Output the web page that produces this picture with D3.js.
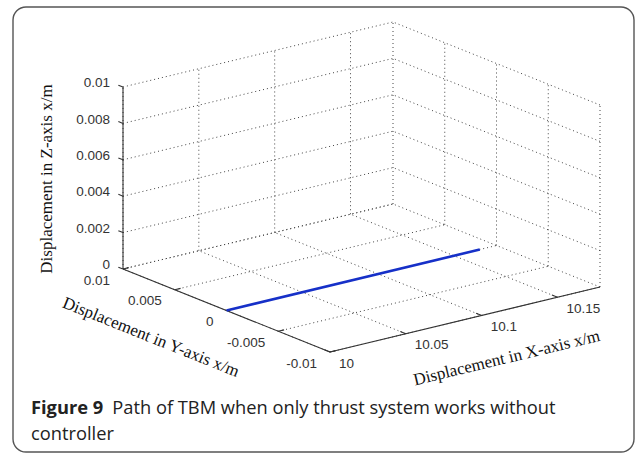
<!DOCTYPE html>
<html>
<head>
<meta charset="utf-8">
<script src="https://cdn.jsdelivr.net/npm/d3@7"></script>
<style>
	body{margin:0;background:#fff;}
	svg{display:block;}
</style>
</head>
<body>
<div id="container"></div>
<script>
// axis ranges and ticks
var xDomain = [10, 10.178],
	yDomain = [-0.01, 0.01],
	zDomain = [0, 0.01];

var xTicks = [10, 10.05, 10.1, 10.15],
	yTicks = [-0.01, -0.005, 0, 0.005, 0.01],
	zTicks = [0, 0.002, 0.004, 0.006, 0.008, 0.01];

var xTickLabels = ['10', '10.05', '10.1', '10.15'],
	yTickLabels = ['-0.01', '-0.005', '0', '0.005', '0.01'],
	zTickLabels = ['0', '0.002', '0.004', '0.006', '0.008', '0.01'];

// TBM path (x, y, z)
var pathX = [10, 10.167],
	pathY = [0, 0],
	pathZ = [0, 0];

var W = 637, H = 454;

var svg = d3.select('#container').append('svg')
	.attr('width', W)
	.attr('height', H);

// frame
svg.append('rect')
	.attr('x', 13).attr('y', 7)
	.attr('width', 621).attr('height', 445)
	.attr('rx', 13)
	.style('fill', 'none')
	.style('stroke', '#555')
	.style('stroke-width', 1.4);

// projection: each axis scale gives a fraction of its screen vector
var origin = [330, 352],		// x=10, y=-0.01, z=0
	vecX = [270, -65],
	vecY = [-207, -83],
	vecZ = [0, -182];

var sx = d3.scaleLinear().domain(xDomain).range([0, 1]),
	sy = d3.scaleLinear().domain(yDomain).range([0, 1]),
	sz = d3.scaleLinear().domain(zDomain).range([0, 1]);

function proj(x, y, z){
	var a = sx(x), b = sy(y), c = sz(z);
	return [
		origin[0] + a*vecX[0] + b*vecY[0] + c*vecZ[0],
		origin[1] + a*vecX[1] + b*vecY[1] + c*vecZ[1]
	];
}

var line = d3.line();
var x0 = xDomain[0], x1 = xDomain[1],
	y0 = yDomain[0], y1 = yDomain[1],
	z0 = zDomain[0], z1 = zDomain[1];

// grid segments on the three back planes
var grid = [];
xTicks.forEach(function(x){
	grid.push([[x, y1, z0], [x, y1, z1]]);		// back wall y=ymax
	grid.push([[x, y0, z0], [x, y1, z0]]);		// floor
});
yTicks.forEach(function(y){
	grid.push([[x1, y, z0], [x1, y, z1]]);		// side wall x=xmax
	grid.push([[x0, y, z0], [x1, y, z0]]);		// floor
});
zTicks.forEach(function(z){
	grid.push([[x0, y1, z], [x1, y1, z]]);
	grid.push([[x1, y0, z], [x1, y1, z]]);
});

svg.append('g').classed('grid', true)
	.selectAll('path')
	.data(grid)
	.enter().append('path')
	.attr('d', function(d){
		return line(d.map(function(p){ return proj(p[0], p[1], p[2]); }));
	})
	.style('fill', 'none')
	.style('stroke', '#444')
	.style('stroke-width', 1)
	.style('stroke-dasharray', '1,3');

// solid axes
var axes = [
	[[x0, y1, z0], [x0, y1, z1]],
	[[x0, y0, z0], [x0, y1, z0]],
	[[x0, y0, z0], [x1, y0, z0]]
];
svg.append('g').classed('axes', true)
	.selectAll('path')
	.data(axes)
	.enter().append('path')
	.attr('d', function(d){
		return line(d.map(function(p){ return proj(p[0], p[1], p[2]); }));
	})
	.style('fill', 'none')
	.style('stroke', '#333')
	.style('stroke-width', 1.1);

// unit vectors for tick marks
function unit(v){ var l = Math.sqrt(v[0]*v[0] + v[1]*v[1]); return [v[0]/l, v[1]/l]; }
var uX = unit(vecX), uY = unit(vecY);
var tickLen = 6;

var ticks = svg.append('g').classed('ticks', true)
	.style('stroke', '#333').style('stroke-width', 1.1);

zTicks.forEach(function(z){
	var p = proj(x0, y1, z);
	ticks.append('line')
		.attr('x1', p[0]).attr('y1', p[1])
		.attr('x2', p[0] + uY[0]*5).attr('y2', p[1] + uY[1]*5);
});
yTicks.forEach(function(y){
	var p = proj(x0, y, z0);
	ticks.append('line')
		.attr('x1', p[0]).attr('y1', p[1])
		.attr('x2', p[0] + uX[0]*tickLen).attr('y2', p[1] + uX[1]*tickLen);
});
xTicks.forEach(function(x){
	var p = proj(x, y0, z0);
	ticks.append('line')
		.attr('x1', p[0]).attr('y1', p[1])
		.attr('x2', p[0] + uY[0]*tickLen).attr('y2', p[1] + uY[1]*tickLen);
});

// tick labels
var labels = svg.append('g').classed('ticklabels', true)
	.style('font-family', '"Liberation Sans", Arial, sans-serif')
	.style('font-size', '13.5px')
	.style('fill', '#333');

zTicks.forEach(function(z, i){
	var p = proj(x0, y1, z);
	labels.append('text')
		.attr('x', p[0] - 13).attr('y', p[1] - 4.5)
		.attr('dy', '0.35em')
		.attr('text-anchor', 'end')
		.text(zTickLabels[i]);
});
yTicks.forEach(function(y, i){
	var p = proj(x0, y, z0);
	labels.append('text')
		.attr('x', p[0] - 13).attr('y', p[1] + 11)
		.attr('dy', '0.35em')
		.attr('text-anchor', 'end')
		.text(yTickLabels[i]);
});
xTicks.forEach(function(x, i){
	var p = proj(x, y0, z0);
	labels.append('text')
		.attr('x', p[0] + 9).attr('y', p[1] + 11)
		.attr('dy', '0.35em')
		.attr('text-anchor', 'start')
		.text(xTickLabels[i]);
});

// axis titles
var titles = svg.append('g').classed('titles', true)
	.style('font-family', '"Liberation Serif", "Times New Roman", serif')
	.style('font-size', '17px')
	.style('fill', '#111');

var angY = Math.atan2(-vecY[1], -vecY[0]) * 180/Math.PI,
	angX = Math.atan2(vecX[1], vecX[0]) * 180/Math.PI;

titles.append('text')
	.attr('transform', 'translate(52,179)rotate(-90)')
	.attr('text-anchor', 'middle')
	.text('Displacement in Z-axis x/m');
titles.append('text')
	.attr('transform', 'translate(149,342)rotate(' + angY + ')')
	.attr('text-anchor', 'middle')
	.text('Displacement in Y-axis x/m');
titles.append('text')
	.attr('transform', 'translate(508,363)rotate(' + angX + ')')
	.attr('text-anchor', 'middle')
	.text('Displacement in X-axis x/m');

// TBM path
svg.append('path')
	.datum(pathX.map(function(x, i){ return proj(x, pathY[i], pathZ[i]); }))
	.attr('d', line)
	.style('fill', 'none')
	.style('stroke', '#1630c8')
	.style('stroke-width', 2.6);

// caption
var cap = svg.append('text')
	.attr('x', 31).attr('y', 414)
	.style('font-family', '"Open Sans", "Noto Sans", sans-serif')
	.style('font-size', '18.3px')
	.style('fill', '#222');
cap.append('tspan').style('font-weight', 'bold').text('Figure 9');
cap.append('tspan').attr('dx', 9).text('Path of TBM when only thrust system works without');
svg.append('text')
	.attr('x', 31).attr('y', 440)
	.style('font-family', '"Open Sans", "Noto Sans", sans-serif')
	.style('font-size', '18.3px')
	.style('fill', '#222')
	.text('controller');
</script>
</body>
</html>
